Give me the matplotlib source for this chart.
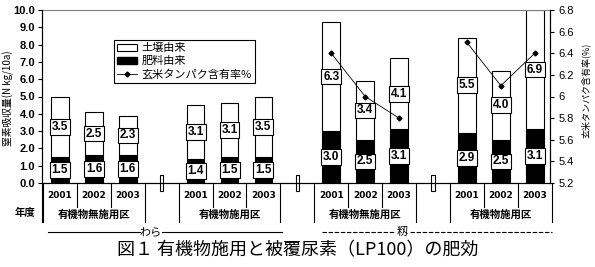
import matplotlib
matplotlib.use('Agg')
import matplotlib.pyplot as plt
from matplotlib.patches import Patch, Rectangle
from matplotlib.lines import Line2D

plt.rcParams['font.family'] = ['Noto Sans CJK JP', 'DejaVu Sans']

# data
years = ['2001', '2002', '2003']
group_names = ['有機物無施用区', '有機物施用区', '有機物無施用区', '有機物施用区']
fert_straw_none = [1.5, 1.6, 1.6]
soil_straw_none = [3.5, 2.5, 2.3]
fert_straw_app = [1.4, 1.5, 1.5]
soil_straw_app = [3.1, 3.1, 3.5]
fert_husk_none = [3.0, 2.5, 3.1]
soil_husk_none = [6.3, 3.4, 4.1]
fert_husk_app = [2.9, 2.5, 3.1]
soil_husk_app = [5.5, 4.0, 6.9]
protein_husk_none = [6.4, 6.0, 5.8]
protein_husk_app = [6.5, 6.1, 6.4]

fert_all = [fert_straw_none, fert_straw_app, fert_husk_none, fert_husk_app]
soil_all = [soil_straw_none, soil_straw_app, soil_husk_none, soil_husk_app]
starts = [0, 4, 8, 12]

fig = plt.figure(figsize=(5.95, 2.67), dpi=100)
ax = fig.add_axes([42 / 595, 1 - 183 / 267, 508 / 595, 173 / 267])
ax2 = ax.twinx()

bw = 0.52
box = dict(boxstyle='square,pad=0.15', fc='white', ec='black', lw=0.8)
for g in range(4):
    xs = [starts[g] + i for i in range(3)]
    ax.bar(xs, fert_all[g], width=bw, color='black', edgecolor='black', lw=0.8)
    ax.bar(xs, soil_all[g], width=bw, bottom=fert_all[g], color='white', edgecolor='black', lw=0.8)
    for i in range(3):
        f = fert_all[g][i]
        s = soil_all[g][i]
        ax.text(xs[i], f / 2, '%.1f' % f, ha='center', va='center', fontsize=8.5,
                fontweight='bold', bbox=box, family='Liberation Sans')
        ax.text(xs[i], f + s / 2, '%.1f' % s, ha='center', va='center', fontsize=8.5,
                fontweight='bold', bbox=box, family='Liberation Sans')

# protein line (husk only)
ax2.plot([8, 9, 10], protein_husk_none, color='black', lw=0.6, marker='D', ms=2.5)
ax2.plot([12, 13, 14], protein_husk_app, color='black', lw=0.6, marker='D', ms=2.5)

ax.set_xlim(-0.53, 14.45)
ax.set_ylim(0, 10)
ax2.set_ylim(5.2, 6.8)
ax.set_yticks([i for i in range(11)])
ax.set_yticklabels(['%.1f' % i for i in range(11)], fontsize=8, fontweight='bold',
                   family='Liberation Sans')
ax2.set_yticks([5.2, 5.4, 5.6, 5.8, 6.0, 6.2, 6.4, 6.6, 6.8])
ax2.set_yticklabels(['5.2', '5.4', '5.6', '5.8', '6', '6.2', '6.4', '6.6', '6.8'],
                    fontsize=8, family='Liberation Sans')
ax.tick_params(axis='y', length=3, width=0.8, pad=2)
ax2.tick_params(axis='y', length=3, width=0.8, pad=3)
ax.set_xticks([])
ax.spines['top'].set_color('#808080')
ax2.spines['top'].set_visible(False)
for a in (ax, ax2):
    for s in ('left', 'right', 'bottom'):
        a.spines[s].set_linewidth(0.8)

fig.text(8 / 595, 1 - 98 / 267, '窒素吸収量(N kg/10a)', rotation=90, ha='center',
         va='center', fontsize=7)
fig.text(586 / 595, 1 - 90 / 267, '玄米タンパク含有率(%)', rotation=90, ha='center',
         va='center', fontsize=6.5)

# category axis below the plot
tr = ax.get_xaxis_transform()
for g in range(4):
    x0 = starts[g]
    for i in range(3):
        ax.text(x0 + i, -0.075, years[i], transform=tr, ha='center', va='center',
                fontsize=6.5, fontweight='bold', family='DejaVu Sans')
    ax.text(x0 + 1, -0.18, group_names[g], transform=tr, ha='center', va='center',
            fontsize=7.5, fontweight='bold')
    for b in [x0 - 0.5, x0 + 2.5]:
        ax.plot([b, b], [0, -0.225], transform=tr, color='black', lw=0.8, clip_on=False)
    for b in [x0 + 0.5, x0 + 1.5]:
        ax.plot([b, b], [0, -0.14], transform=tr, color='black', lw=0.8, clip_on=False)
ax.plot([-0.53, -0.53], [0, -0.225], transform=tr, color='black', lw=0.8, clip_on=False)
for b in [3, 7, 11]:
    ax.add_patch(Rectangle((b - 0.045, -0.045), 0.09, 0.09, transform=tr, fc='white',
                           ec='black', lw=0.8, clip_on=False))
fig.text(25 / 595, 1 - 213 / 267, '年度', ha='center', va='center', fontsize=7.5,
         fontweight='bold')

# straw / husk group lines
yl = 1 - 232 / 267
fig.add_artist(Line2D([48 / 595, 140 / 595], [yl, yl], color='black', lw=0.8))
fig.add_artist(Line2D([162 / 595, 282 / 595], [yl, yl], color='black', lw=0.8))
fig.text(151 / 595, yl, 'わら', ha='center', va='center', fontsize=8)
fig.add_artist(Line2D([322 / 595, 395 / 595], [yl, yl], color='black', lw=0.8, ls=(0, (4, 1.5))))
fig.add_artist(Line2D([410 / 595, 552 / 595], [yl, yl], color='black', lw=0.8, ls=(0, (4, 1.5))))
fig.text(402 / 595, yl, '籾', ha='center', va='center', fontsize=8)

fig.text(298 / 595, 1 - 250 / 267, '図１ 有機物施用と被覆尿素（LP100）の肥効', ha='center',
         va='center', fontsize=13)

handles = [Patch(fc='white', ec='black', lw=0.8), Patch(fc='black', ec='black'),
           Line2D([], [], color='black', lw=0.6, marker='D', ms=2.5)]
leg = ax.legend(handles, ['土壌由来', '肥料由来', '玄米タンパク含有率%'], loc='upper left',
                bbox_to_anchor=(0.13, 0.86), fontsize=8, fancybox=False, edgecolor='black',
                framealpha=1, borderpad=0.3, labelspacing=0.25, handlelength=1.8,
                handleheight=0.6, handletextpad=0.4)
leg.get_frame().set_linewidth(0.8)
leg.set_zorder(5)

fig.savefig('out.png', dpi=100)
